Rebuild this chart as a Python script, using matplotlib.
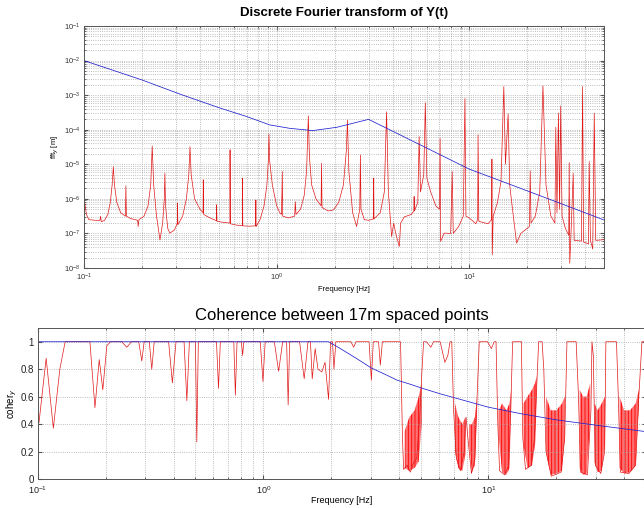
import numpy as np
import matplotlib
matplotlib.use("Agg")
import matplotlib.pyplot as plt
from matplotlib.ticker import LogLocator, FormatStrFormatter, NullFormatter

plt.rcParams["font.family"] = ["Liberation Sans", "DejaVu Sans"]
plt.rcParams["hatch.linewidth"] = 0.6

# --- Top panel: DFT amplitude (values stored as log10 of metres) ---
fft_model_f = [0.1, 0.2, 0.315, 0.5, 0.7, 0.92, 1.17, 1.54, 2.05, 2.5, 3.0,
               5.0, 10.0, 19.8, 30.0, 50.0]
fft_model_exp = [-2.0, -2.56, -2.97, -3.36, -3.62, -3.86, -3.96, -4.025, -3.93, -3.81, -3.70,
                 -4.31, -5.14, -5.76, -6.14, -6.61]

fft_data_f = [
    0.100, 0.101, 0.103, 0.106, 0.115, 0.121, 0.122, 0.123, 0.128, 0.133, 0.137, 0.140,
    0.142, 0.144, 0.148, 0.155, 0.164, 0.165, 0.166, 0.175, 0.190, 0.191, 0.193, 0.205,
    0.215, 0.222, 0.226, 0.230, 0.238, 0.248, 0.256, 0.261, 0.263, 0.265, 0.272, 0.279,
    0.295, 0.305, 0.306, 0.307, 0.325, 0.340, 0.350, 0.355, 0.360, 0.375, 0.400, 0.415,
    0.416, 0.418, 0.45, 0.487, 0.488, 0.490, 0.53, 0.572, 0.573, 0.575, 0.62, 0.664,
    0.665, 0.667, 0.72, 0.778, 0.780, 0.782, 0.82, 0.86, 0.89, 0.905, 0.912, 0.92,
    0.95, 1.00, 1.04, 1.06, 1.07, 1.075, 1.15, 1.24, 1.25, 1.26, 1.33, 1.39,
    1.43, 1.46, 1.48, 1.52, 1.60, 1.70, 1.71, 1.72, 1.85, 1.97, 2.10, 2.22,
    2.30, 2.33, 2.37, 2.48, 2.60, 2.70, 2.72, 2.74, 2.85, 3.0, 3.18, 3.19,
    3.20, 3.45, 3.62, 3.72, 3.80, 3.95, 4.05, 4.15, 4.33, 4.40, 4.60, 5.0,
    5.15, 5.17, 5.19, 5.40, 5.49, 5.58, 5.80, 5.91, 6.02, 6.30, 6.70, 7.00,
    7.05, 7.10, 7.40, 8.00, 8.15, 8.25, 8.80, 9.30, 9.49, 9.60, 10.0, 10.8,
    11.05, 11.1, 11.2, 12.5, 13.05, 13.1, 13.15, 13.3, 14.0, 14.6, 15.1, 15.4,
    15.9, 16.2, 17.0, 17.6, 18.5, 20.5, 20.7, 20.9, 22.0, 23.2, 24.1, 25.0,
    26.5, 27.8, 28.1, 28.5, 29.0, 29.4, 29.8, 30.3, 31.5, 32.8, 33.0, 33.2,
    33.6, 34.6, 35.0, 38.2, 38.7, 39.2, 41.5, 41.9, 42.5, 43.7, 44.5, 45.3,
    50.0,
]
fft_data_exp = [
    -6.30, -6.13, -6.45, -6.60, -6.62, -6.62, -6.50, -6.66, -6.62, -6.45, -6.10, -5.60,
    -5.07, -5.60, -6.10, -6.40, -6.50, -5.62, -6.50, -6.57, -6.62, -6.80, -6.60, -6.50,
    -6.20, -5.60, -4.47, -5.60, -6.50, -7.19, -6.70, -6.00, -5.26, -6.20, -6.85, -6.99,
    -6.90, -6.70, -6.13, -6.75, -6.50, -6.00, -5.30, -4.49, -5.30, -6.00, -6.30, -6.40,
    -5.45, -6.45, -6.55, -6.63, -6.17, -6.65, -6.68, -6.70, -4.58, -6.72, -6.76, -6.77,
    -5.40, -6.78, -6.79, -6.78, -6.03, -6.80, -6.60, -6.20, -5.60, -4.90, -4.12, -4.90,
    -5.60, -6.20, -6.41, -6.45, -5.21, -6.50, -6.55, -6.50, -6.08, -6.45, -6.30, -5.90,
    -5.20, -3.60, -4.80, -5.60, -6.00, -6.20, -4.97, -6.25, -6.35, -6.32, -6.10, -5.60,
    -4.60, -3.72, -5.20, -6.40, -6.80, -6.30, -4.73, -6.30, -6.60, -6.62, -6.58, -5.40,
    -6.58, -6.40, -5.80, -3.48, -5.80, -7.09, -6.70, -7.00, -7.38, -6.70, -6.52, -6.45,
    -6.35, -5.93, -6.35, -6.10, -4.20, -5.80, -5.30, -3.22, -5.40, -5.80, -6.20, -6.30,
    -4.25, -7.23, -6.99, -7.00, -5.21, -7.00, -6.80, -6.50, -3.10, -6.50, -6.55, -6.72,
    -6.60, -4.15, -6.65, -6.72, -6.60, -4.85, -7.62, -6.50, -6.10, -5.50, -2.75, -5.00,
    -3.54, -5.60, -6.60, -7.28, -7.00, -6.80, -5.19, -6.70, -6.50, -5.80, -2.73, -5.60,
    -6.50, -6.70, -3.93, -6.40, -3.52, -6.30, -3.31, -6.50, -6.85, -7.05, -4.95, -7.86,
    -7.20, -5.26, -7.20, -7.22, -2.75, -7.25, -7.30, -4.92, -7.20, -7.45, -3.52, -7.20,
    -7.18,
]

# --- Bottom panel: coherence ---
coh_model_f = [0.1, 1.95, 2.2, 2.44, 2.7, 3.01, 3.5, 3.93, 4.5, 4.99, 6.12, 7.5,
               10.0, 14.0, 20.2, 30.0, 50.0]
coh_model = [1.0, 1.0, 0.95, 0.905, 0.86, 0.81, 0.76, 0.72, 0.69, 0.665, 0.62, 0.58,
             0.523, 0.475, 0.43, 0.392, 0.345]

coh_data_f = [
    0.100, 0.101, 0.1087, 0.117, 0.125, 0.132, 0.170, 0.179, 0.187, 0.194, 0.202, 0.21,
    0.235, 0.248, 0.26, 0.28, 0.289, 0.296, 0.312, 0.320, 0.328, 0.38, 0.395, 0.41,
    0.445, 0.458, 0.47, 0.50, 0.507, 0.515, 0.62, 0.633, 0.645, 0.74, 0.752, 0.765,
    0.80, 0.81, 0.82, 0.97, 0.997, 1.02, 1.12, 1.17, 1.22, 1.27, 1.29, 1.31,
    1.45, 1.52, 1.58, 1.62, 1.65, 1.70, 1.75, 1.82, 1.88, 1.95, 1.99, 2.03,
    2.06, 2.10, 2.45, 2.52, 2.58, 2.95, 3.02, 3.08, 3.25, 3.31, 3.38, 4.07,
    4.15, 4.20, 4.35, 4.50, 4.65, 4.80, 4.95, 5.05, 5.15, 5.30, 5.55, 5.70,
    6.10, 6.40, 6.60, 6.75, 6.87, 7.00, 7.20, 7.50, 7.80, 7.95, 8.10, 8.40,
    8.70, 8.90, 9.10, 9.90, 10.3, 10.6, 10.8, 11.0, 11.2, 11.8, 12.3, 12.6,
    12.8, 13.7, 14.0, 14.2, 14.6, 15.5, 16.0, 16.5, 16.7, 17.3, 17.6, 18.0,
    19.0, 21.0, 21.8, 22.3, 24.5, 25.1, 25.6, 27.5, 28.5, 28.8, 29.2, 29.8,
    31.5, 32.8, 33.2, 37.0, 37.7, 38.5, 42.0, 45.0, 46.5, 48.0, 50.0,
]
coh_data = [
    0.43, 0.41, 0.88, 0.37, 0.80, 1.0, 1.0, 0.52, 0.87, 0.65, 0.97, 1.0,
    1.0, 0.96, 1.0, 1.0, 0.86, 1.0, 1.0, 0.80, 1.0, 1.0, 0.70, 1.0,
    1.0, 0.57, 1.0, 1.0, 0.27, 1.0, 1.0, 0.66, 1.0, 1.0, 0.61, 1.0,
    1.0, 0.90, 1.0, 1.0, 0.71, 1.0, 1.0, 0.785, 1.0, 1.0, 0.54, 1.0,
    1.0, 0.73, 1.0, 1.0, 0.73, 0.95, 0.80, 0.78, 0.85, 0.58, 1.0, 1.0,
    0.80, 1.0, 1.0, 0.96, 1.0, 1.0, 0.72, 1.0, 1.0, 0.83, 1.0, 1.0,
    0.30, 0.07, 0.10, 0.05, 0.12, 0.15, 0.45, 0.75, 1.0, 1.0, 0.96, 1.0,
    1.0, 0.85, 0.90, 1.0, 1.0, 0.50, 0.15, 0.06, 0.20, 0.45, 0.30, 0.04,
    0.15, 0.60, 1.0, 1.0, 0.95, 1.0, 1.0, 0.40, 0.06, 0.03, 0.10, 0.60,
    1.0, 1.0, 1.0, 0.30, 0.07, 0.10, 0.30, 0.80, 1.0, 1.0, 0.80, 0.20,
    0.02, 0.05, 0.30, 1.0, 1.0, 0.60, 0.05, 0.03, 0.50, 1.0, 0.90, 0.10,
    0.04, 0.20, 1.0, 1.0, 0.60, 0.05, 0.04, 0.10, 0.60, 1.0, 1.0,
]

# dense (unresolved) oscillation bands inside the deep dips, NaN separates bands
dense_f = [4.25, 4.45, 4.7, 4.9, 5.05, np.nan,
           7.1, 7.35, 7.65, 7.9, np.nan,
           8.2, 8.45, 8.7, 8.9, np.nan,
           11.1, 11.5, 12.0, 12.4, 12.6, np.nan,
           14.3, 14.9, 15.6, 16.1, 16.4, np.nan,
           18.0, 18.9, 20.0, 21.2, 21.8, np.nan,
           25.4, 26.3, 27.3, 28.3, np.nan,
           29.6, 30.5, 31.8, 32.9, np.nan,
           38.2, 40.0, 42.5, 45.0, 46.5]
dense_lo = [0.08, 0.06, 0.08, 0.13, 0.40, np.nan,
            0.20, 0.08, 0.06, 0.18, np.nan,
            0.25, 0.05, 0.10, 0.50, np.nan,
            0.30, 0.05, 0.03, 0.08, 0.50, np.nan,
            0.25, 0.08, 0.10, 0.25, 0.60, np.nan,
            0.20, 0.03, 0.04, 0.06, 0.30, np.nan,
            0.08, 0.03, 0.04, 0.45, np.nan,
            0.12, 0.05, 0.06, 0.25, np.nan,
            0.08, 0.04, 0.05, 0.10, 0.55]
dense_hi = [0.35, 0.45, 0.50, 0.60, 0.70, np.nan,
            0.55, 0.45, 0.40, 0.45, np.nan,
            0.40, 0.40, 0.45, 0.60, np.nan,
            0.50, 0.55, 0.50, 0.55, 0.65, np.nan,
            0.55, 0.60, 0.65, 0.70, 0.75, np.nan,
            0.60, 0.50, 0.50, 0.55, 0.60, np.nan,
            0.65, 0.60, 0.60, 0.70, np.nan,
            0.55, 0.50, 0.55, 0.60, np.nan,
            0.60, 0.50, 0.50, 0.55, 0.65]

grid_kw = dict(linestyle=":", color="#a8a8a8", linewidth=0.6)
spine_col = "#555555"

fig = plt.figure(figsize=(6.44, 5.08), dpi=100)

# ---------------- top ----------------
ax1 = fig.add_axes([0.1304, 0.4724, 0.8075, 0.4764])
ax1.plot(fft_data_f, 10.0 ** np.array(fft_data_exp), color="#e01818", linewidth=0.5)
ax1.plot(fft_model_f, 10.0 ** np.array(fft_model_exp), color="#2020d0", linewidth=0.55)
ax1.set_xscale("log")
ax1.set_yscale("log")
ax1.set_xlim(0.1, 50)
ax1.set_ylim(1e-8, 1e-1)
ax1.yaxis.set_major_locator(LogLocator(base=10, numticks=12))
ax1.yaxis.set_minor_locator(LogLocator(base=10, subs=np.arange(2, 10), numticks=12))
ax1.yaxis.set_minor_formatter(NullFormatter())
ax1.xaxis.set_minor_formatter(NullFormatter())
ax1.grid(True, which="both", **grid_kw)
ax1.set_title("Discrete Fourier transform of Y(t)", fontsize=9.5, fontweight="bold", pad=7)
ax1.set_xlabel("Frequency [Hz]", fontsize=5.5, labelpad=2)
ax1.set_ylabel("fft$_y$ [m]", fontsize=5.5, labelpad=2)
ax1.tick_params(which="both", direction="in", top=True, right=True,
                labelsize=5.5, colors=spine_col, labelcolor="#333333", pad=2.5)
ax1.tick_params(which="major", length=3)
ax1.tick_params(which="minor", length=1.5)
for s in ax1.spines.values():
    s.set_color(spine_col)
    s.set_linewidth(0.7)

# ---------------- bottom ----------------
ax2 = fig.add_axes([0.059, 0.0571, 0.944, 0.2972])
ax2.fill_between(dense_f, dense_lo, dense_hi, facecolor=(1.0, 0.2, 0.2, 0.7),
                 edgecolor="red", hatch="|||||", linewidth=0)
ax2.plot(coh_data_f, coh_data, color="#e01818", linewidth=0.5)
ax2.plot(coh_model_f, coh_model, color="#2020d0", linewidth=0.55)
ax2.set_xscale("log")
ax2.set_xlim(0.1, 50)
ax2.set_ylim(0, 1.1)
ax2.set_yticks([0, 0.2, 0.4, 0.6, 0.8, 1.0])
ax2.yaxis.set_major_formatter(FormatStrFormatter("%g"))
ax2.xaxis.set_minor_formatter(NullFormatter())
ax2.grid(True, which="major", axis="y", **grid_kw)
ax2.grid(True, which="both", axis="x", **grid_kw)
ax2.set_title("Coherence between 17m spaced points", fontsize=12, pad=6)
ax2.set_xlabel("Frequency [Hz]", fontsize=6.5, labelpad=0)
ax2.set_ylabel("coher$_y$", fontsize=7, labelpad=1)
ax2.tick_params(which="both", direction="in", top=True, right=True,
                colors=spine_col, labelcolor="#222222")
ax2.tick_params(axis="y", labelsize=7, pad=3)
ax2.tick_params(axis="x", labelsize=6.5, pad=3.5)
ax2.tick_params(which="major", length=3)
ax2.tick_params(which="minor", length=1.5)
for s in ax2.spines.values():
    s.set_color(spine_col)
    s.set_linewidth(0.7)

fig.savefig("out.png", dpi=100)
